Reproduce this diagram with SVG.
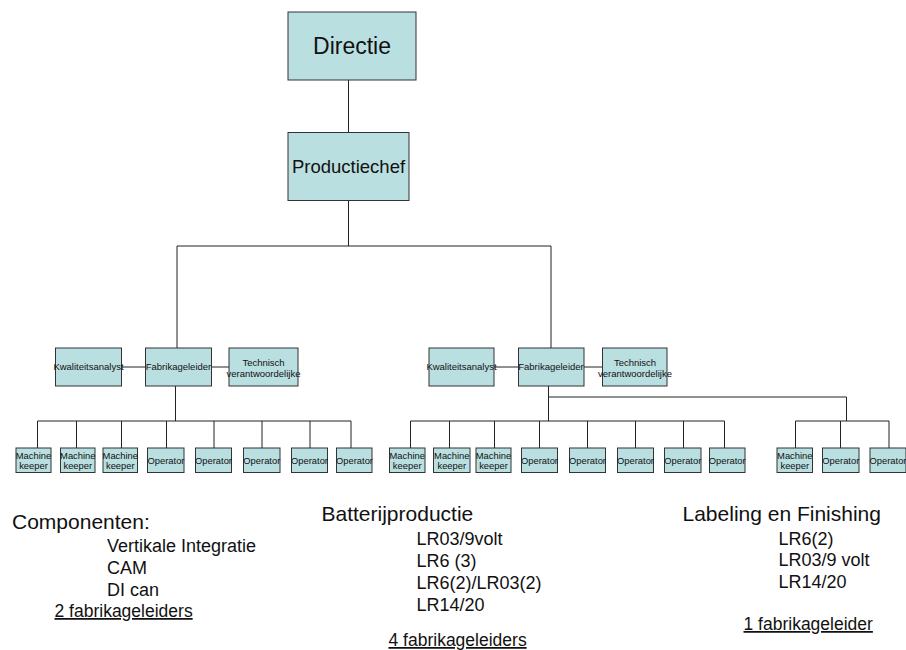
<svg xmlns="http://www.w3.org/2000/svg" width="906" height="650" viewBox="0 0 906 650">
  <style>
    .box { fill: #badfe0; stroke: #333333; stroke-width: 1; }
    .wire { fill: none; stroke: #222222; stroke-width: 1; }
    .t { font-family: "Liberation Sans", Arial, sans-serif; fill: #111111; text-anchor: middle; }
    .s { font-size: 9.5px; }
    .n { font-size: 9.4px; }
    .h { font-family: "Liberation Sans", Arial, sans-serif; fill: #111111; font-size: 21px; }
    .i { font-family: "Liberation Sans", Arial, sans-serif; fill: #111111; font-size: 18px; }
    .u { font-family: "Liberation Sans", Arial, sans-serif; fill: #111111; font-size: 17.5px; text-decoration: underline; }
  </style>
  <rect width="906" height="650" fill="#ffffff"/>

  <!-- connectors -->
  <g id="connectors" class="wire">
    <path d="M348.5 80 V132.5"/>
    <path d="M348.5 200.5 V246 M177 246 H551 M177 246 V348 M551 246 V348"/>
    <!-- group 1 staff / subordinates -->
    <path d="M121.5 367 H145.5 M211.5 367 H229"/>
    <path d="M175.5 386 V421 M37.5 421 H351 M37.5 421 V448 M76.5 421 V448 M121.5 421 V448 M166.5 421 V448 M214 421 V448 M262 421 V448 M310 421 V448 M351 421 V448"/>
    <!-- group 2 -->
    <path d="M494 367 H518.5 M584 367 H602.5"/>
    <path d="M548.5 386 V421 M410.5 421 H724.5 M410.5 421 V448 M449.5 421 V448 M494.5 421 V448 M539.5 421 V448 M587.5 421 V448 M635.5 421 V448 M683.5 421 V448 M724.5 421 V448"/>
    <!-- group 3 -->
    <path d="M548.5 397 H846.5 V421 M795.5 421 H889 M795.5 421 V448 M840.5 421 V448 M889 421 V448"/>
  </g>

  <!-- top -->
  <g id="directie">
    <rect class="box" x="288" y="12" width="128" height="68"/>
    <text class="t" x="352" y="54" font-size="23">Directie</text>
  </g>
  <g id="productiechef">
    <rect class="box" x="288" y="132.5" width="121" height="68"/>
    <text class="t" x="348.5" y="173" font-size="18.5">Productiechef</text>
  </g>

  <!-- group 1 middle row -->
  <g id="kwaliteit1">
    <rect class="box" x="55.5" y="348" width="66" height="38"/>
    <text class="t s" x="88.5" y="369.5">Kwaliteitsanalyst</text>
  </g>
  <g id="fabrikage1">
    <rect class="box" x="145.5" y="348" width="66" height="38"/>
    <text class="t s" x="178.5" y="369.5">Fabrikageleider</text>
  </g>
  <g id="technisch1">
    <rect class="box" x="229" y="348" width="69" height="38"/>
    <text class="t s" x="263.5" y="366">Technisch</text>
    <text class="t s" x="263.5" y="377">verantwoordelijke</text>
  </g>

  <!-- group 2 middle row -->
  <g id="kwaliteit2">
    <rect class="box" x="429" y="348" width="65" height="38"/>
    <text class="t s" x="461.5" y="369.5">Kwaliteitsanalyst</text>
  </g>
  <g id="fabrikage2">
    <rect class="box" x="518.5" y="348" width="65.5" height="38"/>
    <text class="t s" x="551" y="369.5">Fabrikageleider</text>
  </g>
  <g id="technisch2">
    <rect class="box" x="602.5" y="348" width="64.5" height="38"/>
    <text class="t s" x="635" y="366">Technisch</text>
    <text class="t s" x="635" y="377">verantwoordelijke</text>
  </g>

  <!-- group 1 bottom row -->
  <g id="g1-mk1"><rect class="box" x="16" y="448" width="35" height="24.5"/><text class="t n" x="33.5" y="459">Machine</text><text class="t n" x="33.5" y="469">keeper</text></g>
  <g id="g1-mk2"><rect class="box" x="60.5" y="448" width="34.5" height="24.5"/><text class="t n" x="77.8" y="459">Machine</text><text class="t n" x="77.8" y="469">keeper</text></g>
  <g id="g1-mk3"><rect class="box" x="103" y="448" width="34.5" height="24.5"/><text class="t n" x="120.3" y="459">Machine</text><text class="t n" x="120.3" y="469">keeper</text></g>
  <g id="g1-op1"><rect class="box" x="147.5" y="448" width="36.5" height="24.5"/><text class="t n" x="166" y="463.5">Operator</text></g>
  <g id="g1-op2"><rect class="box" x="195.5" y="448" width="36" height="24.5"/><text class="t n" x="213.5" y="463.5">Operator</text></g>
  <g id="g1-op3"><rect class="box" x="243.5" y="448" width="36.5" height="24.5"/><text class="t n" x="261.8" y="463.5">Operator</text></g>
  <g id="g1-op4"><rect class="box" x="291.5" y="448" width="36" height="24.5"/><text class="t n" x="309.5" y="463.5">Operator</text></g>
  <g id="g1-op5"><rect class="box" x="336.5" y="448" width="35.5" height="24.5"/><text class="t n" x="354.5" y="463.5">Operator</text></g>

  <!-- group 2 bottom row -->
  <g id="g2-mk1"><rect class="box" x="389.5" y="448" width="35.5" height="24.5"/><text class="t n" x="407.2" y="459">Machine</text><text class="t n" x="407.2" y="469">keeper</text></g>
  <g id="g2-mk2"><rect class="box" x="433.5" y="448" width="36.5" height="24.5"/><text class="t n" x="451.8" y="459">Machine</text><text class="t n" x="451.8" y="469">keeper</text></g>
  <g id="g2-mk3"><rect class="box" x="476" y="448" width="35" height="24.5"/><text class="t n" x="493.5" y="459">Machine</text><text class="t n" x="493.5" y="469">keeper</text></g>
  <g id="g2-op1"><rect class="box" x="521.5" y="448" width="36" height="24.5"/><text class="t n" x="539.5" y="463.5">Operator</text></g>
  <g id="g2-op2"><rect class="box" x="569.5" y="448" width="36" height="24.5"/><text class="t n" x="587.5" y="463.5">Operator</text></g>
  <g id="g2-op3"><rect class="box" x="617.5" y="448" width="36" height="24.5"/><text class="t n" x="635.5" y="463.5">Operator</text></g>
  <g id="g2-op4"><rect class="box" x="664.5" y="448" width="36.5" height="24.5"/><text class="t n" x="682.8" y="463.5">Operator</text></g>
  <g id="g2-op5"><rect class="box" x="709.5" y="448" width="35.5" height="24.5"/><text class="t n" x="727.2" y="463.5">Operator</text></g>

  <!-- group 3 bottom row -->
  <g id="g3-mk1"><rect class="box" x="777" y="448" width="35.5" height="24.5"/><text class="t n" x="794.8" y="459">Machine</text><text class="t n" x="794.8" y="469">keeper</text></g>
  <g id="g3-op1"><rect class="box" x="822.5" y="448" width="36.5" height="24.5"/><text class="t n" x="840.8" y="463.5">Operator</text></g>
  <g id="g3-op2"><rect class="box" x="870" y="448" width="36" height="24.5"/><text class="t n" x="888" y="463.5">Operator</text></g>

  <!-- department notes -->
  <g id="componenten">
    <text class="h" x="12" y="529">Componenten:</text>
    <text class="i" x="107" y="552">Vertikale Integratie</text>
    <text class="i" x="107" y="574">CAM</text>
    <text class="i" x="107" y="596">DI can</text>
    <text class="u" x="54.5" y="617">2 fabrikageleiders</text>
  </g>
  <g id="batterijproductie">
    <text class="h" x="321.5" y="521">Batterijproductie</text>
    <text class="i" x="416.5" y="544.5">LR03/9volt</text>
    <text class="i" x="416.5" y="566.5">LR6 (3)</text>
    <text class="i" x="416.5" y="588.5">LR6(2)/LR03(2)</text>
    <text class="i" x="416.5" y="610.5">LR14/20</text>
    <text class="u" x="388.5" y="646">4 fabrikageleiders</text>
  </g>
  <g id="labeling">
    <text class="h" x="682.5" y="521">Labeling en Finishing</text>
    <text class="i" x="778.5" y="544.5">LR6(2)</text>
    <text class="i" x="778.5" y="566">LR03/9 volt</text>
    <text class="i" x="778.5" y="587.5">LR14/20</text>
    <text class="u" x="743.5" y="630">1 fabrikageleider</text>
  </g>
</svg>
